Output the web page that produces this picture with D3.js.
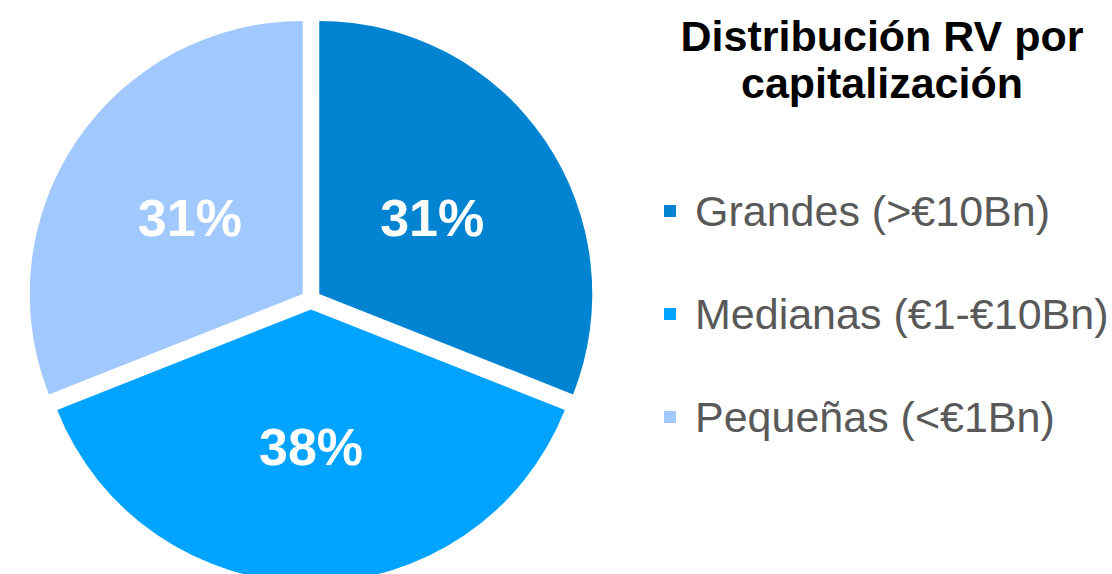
<!DOCTYPE html>
<html>
<head>
<meta charset="utf-8">
<script src="https://cdn.jsdelivr.net/npm/d3@7"></script>
<style>
  body { margin: 0; background: #fff; }
  svg { display: block; font-family: Arial, "Liberation Sans", sans-serif; }
</style>
</head>
<body>
<script>
const categories = ["Grandes (>€10Bn)", "Medianas (€1-€10Bn)", "Pequeñas (<€1Bn)"];
const values = [31, 38, 31];
const colors = ["#0084d1", "#00a3ff", "#a2c9ff"];
const titleLines = ["Distribución RV por", "capitalización"];

const WIDTH = 1112;
const HEIGHT = 574;
const CX = 311;
const CY = 299.5;
const RADIUS = 273;
const EXPLODE = 10;

var translate = function(x, y) {
    return "translate(" + x + "," + y + ")";
};

var data = categories.map(function(c, i) {
    return {name: c, value: values[i], color: colors[i]};
});

var svg = d3.select("body").append("svg")
    .attr("width", WIDTH)
    .attr("height", HEIGHT);

var pie = d3.pie()
    .sort(null)
    .value(function(d) { return d.value; });

var arc = d3.arc()
    .innerRadius(0)
    .outerRadius(RADIUS);

var labelArc = d3.arc()
    .innerRadius(RADIUS * 0.5)
    .outerRadius(RADIUS * 0.5);

var offset = function(d, dist) {
    var a = (d.startAngle + d.endAngle) / 2;
    return [Math.sin(a) * dist, -Math.cos(a) * dist];
};

var g = svg.append("g")
    .attr("transform", translate(CX, CY));

var slices = g.selectAll(".slice")
    .data(pie(data))
    .enter()
    .append("g")
    .attr("class", "slice")
    .attr("transform", function(d) {
        var o = offset(d, EXPLODE);
        return translate(o[0], o[1]);
    });

slices.append("path")
    .attr("d", arc)
    .attr("fill", function(d) { return d.data.color; });

slices.append("text")
    .attr("transform", function(d) {
        var c = labelArc.centroid(d);
        return translate(c[0], c[1]);
    })
    .attr("text-anchor", "middle")
    .attr("dy", "0.36em")
    .attr("fill", "#fff")
    .attr("font-weight", "bold")
    .attr("font-size", 52)
    .text(function(d) { return d.data.value + "%"; });

// title
svg.append("g")
    .selectAll("text")
    .data(titleLines)
    .enter()
    .append("text")
    .attr("x", 882)
    .attr("y", function(d, i) { return 51 + i * 47; })
    .attr("text-anchor", "middle")
    .attr("font-weight", "bold")
    .attr("font-size", 43)
    .attr("fill", "#000")
    .text(function(d) { return d; });

// legend
var legend = svg.append("g")
    .selectAll(".legend")
    .data(data)
    .enter()
    .append("g")
    .attr("class", "legend")
    .attr("transform", function(d, i) { return translate(664, 211 + i * 103); });

legend.append("rect")
    .attr("x", 0)
    .attr("y", -6)
    .attr("width", 12)
    .attr("height", 12)
    .attr("fill", function(d) { return d.color; });

legend.append("text")
    .attr("x", 31)
    .attr("dy", "0.36em")
    .attr("font-size", 43)
    .attr("fill", "#595959")
    .text(function(d) { return d.name; });
</script>
</body>
</html>
